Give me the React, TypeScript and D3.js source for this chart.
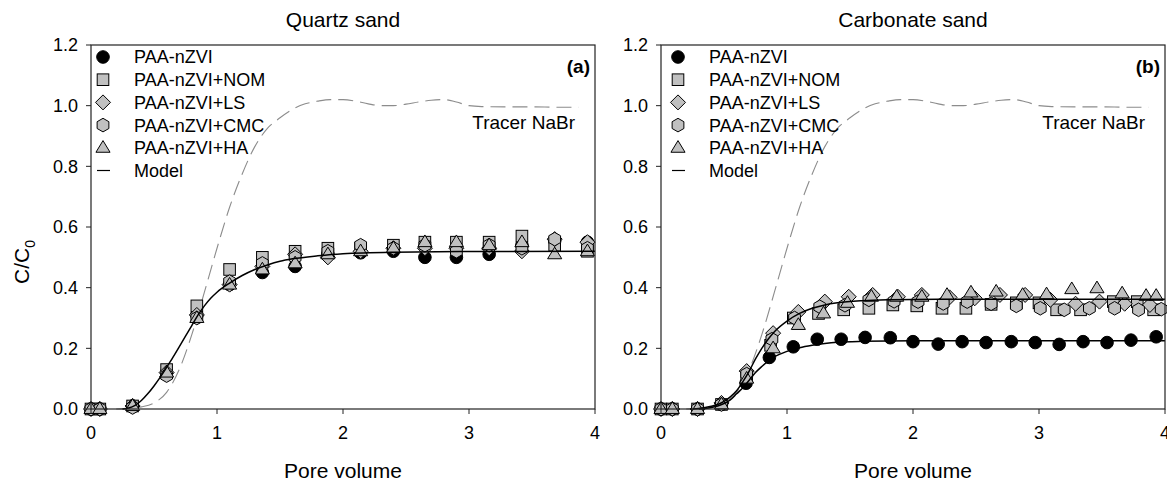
import React from "react";
import * as d3 from "d3";

// ---- Series names & legend ----
const seriesNames = ["PAA-nZVI", "PAA-nZVI+NOM", "PAA-nZVI+LS", "PAA-nZVI+CMC", "PAA-nZVI+HA"];
const seriesShapes = ["circle", "square", "diamond", "hexagon", "triangle"];

// ---- Quartz sand (a) ----
const quartzPV = [0, 0.07, 0.33, 0.6, 0.84, 1.1, 1.36, 1.62, 1.88, 2.14, 2.4, 2.65, 2.9, 3.16, 3.42, 3.68, 3.94];
const quartzZVI = [0, 0, 0.01, 0.12, 0.31, 0.41, 0.45, 0.47, 0.51, 0.515, 0.52, 0.5, 0.5, 0.51, 0.54, 0.555, 0.55];
const quartzNOM = [0, 0, 0.01, 0.13, 0.34, 0.46, 0.5, 0.52, 0.53, 0.53, 0.54, 0.55, 0.55, 0.55, 0.57, 0.54, 0.52];
const quartzLS = [0, 0, 0.01, 0.12, 0.31, 0.41, 0.47, 0.51, 0.5, 0.52, 0.53, 0.53, 0.53, 0.53, 0.52, 0.56, 0.55];
const quartzCMC = [0, 0, 0.005, 0.11, 0.3, 0.42, 0.48, 0.5, 0.52, 0.54, 0.53, 0.54, 0.52, 0.54, 0.53, 0.56, 0.53];
const quartzHA = [0, 0, 0.01, 0.12, 0.3, 0.41, 0.46, 0.48, 0.51, 0.52, 0.53, 0.55, 0.55, 0.54, 0.55, 0.51, 0.52];

const quartzModelPV = [0.25, 0.3, 0.35, 0.4, 0.45, 0.5, 0.55, 0.6, 0.65, 0.7, 0.75, 0.8, 0.85, 0.9, 0.95, 1.0, 1.1, 1.2, 1.3, 1.4, 1.5, 1.6, 1.8, 2.0, 2.4, 3.0, 4.0];
const quartzModelC = [0, 0.003, 0.012, 0.028, 0.05, 0.076, 0.105, 0.137, 0.17, 0.205, 0.24, 0.275, 0.31, 0.34, 0.365, 0.385, 0.415, 0.44, 0.46, 0.475, 0.487, 0.495, 0.505, 0.512, 0.517, 0.519, 0.52];

// ---- Carbonate sand (b) ----
const carbZVIpv = [0, 0.09, 0.29, 0.48, 0.675, 0.86, 1.05, 1.24, 1.43, 1.62, 1.82, 2.0, 2.2, 2.39, 2.58, 2.78, 2.97, 3.16, 3.35, 3.54, 3.73, 3.93];
const carbZVI = [0, 0, 0, 0.015, 0.085, 0.17, 0.205, 0.23, 0.23, 0.236, 0.235, 0.222, 0.214, 0.222, 0.219, 0.222, 0.219, 0.213, 0.222, 0.219, 0.227, 0.238];
const carbNOMpv = [0, 0.09, 0.29, 0.48, 0.68, 0.87, 1.05, 1.25, 1.45, 1.65, 1.84, 2.03, 2.23, 2.42, 2.62, 2.82, 3.0, 3.14, 3.33, 3.59, 3.78, 3.91];
const carbNOM = [0, 0, 0, 0.015, 0.11, 0.21, 0.3, 0.315, 0.327, 0.332, 0.343, 0.34, 0.332, 0.332, 0.345, 0.35, 0.35, 0.327, 0.327, 0.354, 0.354, 0.327];
const carbLSpv = [0, 0.09, 0.29, 0.48, 0.68, 0.89, 1.09, 1.3, 1.49, 1.68, 1.88, 2.07, 2.29, 2.49, 2.69, 2.89, 3.09, 3.29, 3.48, 3.68, 3.88];
const carbLS = [0, 0, 0, 0.02, 0.125, 0.25, 0.32, 0.354, 0.37, 0.376, 0.37, 0.376, 0.368, 0.365, 0.376, 0.376, 0.36, 0.347, 0.354, 0.347, 0.343];
const carbCMCpv = [0, 0.09, 0.29, 0.48, 0.68, 0.88, 1.06, 1.26, 1.46, 1.65, 1.85, 2.04, 2.24, 2.43, 2.62, 2.82, 3.01, 3.2, 3.4, 3.6, 3.79, 3.97];
const carbCMC = [0, 0, 0, 0.015, 0.115, 0.23, 0.3, 0.337, 0.342, 0.36, 0.355, 0.354, 0.348, 0.354, 0.347, 0.34, 0.332, 0.327, 0.332, 0.332, 0.327, 0.329];
const carbHApv = [0, 0.09, 0.29, 0.48, 0.68, 0.89, 1.09, 1.29, 1.48, 1.67, 1.87, 2.07, 2.27, 2.46, 2.66, 2.87, 3.06, 3.26, 3.46, 3.66, 3.85, 3.93];
const carbHA = [0, 0, 0, 0.015, 0.1, 0.2, 0.277, 0.315, 0.35, 0.37, 0.37, 0.37, 0.376, 0.384, 0.387, 0.376, 0.378, 0.395, 0.398, 0.381, 0.373, 0.373];

const carbModelLowPV = [0.3, 0.35, 0.4, 0.45, 0.5, 0.55, 0.6, 0.65, 0.7, 0.75, 0.8, 0.85, 0.9, 1.0, 1.1, 1.2, 1.3, 1.4, 1.6, 2.0, 4.0];
const carbModelLowC = [0, 0.002, 0.005, 0.01, 0.018, 0.03, 0.05, 0.07, 0.095, 0.12, 0.14, 0.158, 0.172, 0.19, 0.202, 0.21, 0.216, 0.22, 0.223, 0.225, 0.225];
const carbModelHighPV = [0.25, 0.3, 0.35, 0.4, 0.45, 0.5, 0.55, 0.6, 0.65, 0.7, 0.75, 0.8, 0.85, 0.9, 1.0, 1.1, 1.2, 1.3, 1.4, 1.6, 1.8, 2.2, 4.0];
const carbModelHighC = [0, 0.002, 0.005, 0.009, 0.015, 0.025, 0.04, 0.06, 0.09, 0.125, 0.165, 0.2, 0.23, 0.255, 0.29, 0.315, 0.332, 0.343, 0.35, 0.357, 0.36, 0.362, 0.362];

// ---- Tracer NaBr (same column breakthrough in both panels) ----
const tracerPV = [0.2, 0.3, 0.4, 0.5, 0.6, 0.7, 0.8, 0.9, 1.0, 1.1, 1.2, 1.3, 1.4, 1.5, 1.6, 1.7, 1.8, 1.9, 2.0, 2.1, 2.2, 2.3, 2.4, 2.5, 2.6, 2.7, 2.8, 2.9, 3.0, 3.1, 3.3, 3.5, 3.7, 3.87];
const tracerC = [0, 0.002, 0.007, 0.02, 0.055, 0.13, 0.245, 0.385, 0.53, 0.665, 0.775, 0.865, 0.925, 0.96, 0.988, 1.006, 1.015, 1.02, 1.02, 1.015, 1.006, 1.0, 1.0, 1.005, 1.012, 1.018, 1.02, 1.012, 1.0, 0.997, 0.996, 0.996, 0.995, 0.995];

const yTicks = [0, 0.2, 0.4, 0.6, 0.8, 1.0, 1.2];
const xTicks = [0, 1, 2, 3, 4];

const FONT = "'Liberation Sans', Arial, Helvetica, sans-serif";
const GRAY = "#c0c0c0";
const AXIS = "#222";

type Pt = [number, number];
const zip = (xs: number[], ys: number[]): Pt[] => xs.map((x, i) => [x, ys[i]]);

function Marker({ shape, cx, cy }: { shape: string; cx: number; cy: number }) {
  const fill = shape === "circle" ? "#000" : GRAY;
  const common = { fill, stroke: "#000", strokeWidth: 1 };
  if (shape === "circle") return <circle cx={cx} cy={cy} r={6.3} {...common} />;
  if (shape === "square") return <rect x={cx - 5.8} y={cy - 5.8} width={11.6} height={11.6} {...common} />;
  if (shape === "diamond") {
    const r = 7.5;
    return <path d={`M${cx},${cy - r}L${cx + r},${cy}L${cx},${cy + r}L${cx - r},${cy}Z`} {...common} />;
  }
  if (shape === "hexagon") {
    const r = 6.8;
    const pts = d3.range(6).map((i) => {
      const a = (Math.PI / 3) * i - Math.PI / 2;
      return `${cx + r * Math.cos(a)},${cy + r * Math.sin(a)}`;
    });
    return <polygon points={pts.join(" ")} {...common} />;
  }
  // triangle
  const r = 7.2;
  return (
    <path
      d={`M${cx},${cy - r}L${cx + r * 0.98},${cy + r * 0.62}L${cx - r * 0.98},${cy + r * 0.62}Z`}
      {...common}
    />
  );
}

interface PanelProps {
  x0: number;
  x1: number;
  title: string;
  tag: string;
  series: Pt[][];
  models: Pt[][];
  showYLabel: boolean;
  legendDx: number;
}

function Panel({ x0, x1, title, tag, series, models, showYLabel, legendDx }: PanelProps) {
  const x = d3.scaleLinear().domain([0, 4]).range([x0, x1]);
  const y = d3.scaleLinear().domain([0, 1.2]).range([409, 45]);
  const line = d3
    .line<Pt>()
    .x((d) => x(d[0]))
    .y((d) => y(d[1]))
    .curve(d3.curveMonotoneX);
  const tracer = zip(tracerPV, tracerC);
  const cx = (x0 + x1) / 2;
  const fmt = d3.format(".1f");
  const lx = x0 + legendDx;

  return (
    <g fontFamily={FONT}>
      <text x={cx} y={27} textAnchor="middle" fontSize={21} fill="#000">
        {title}
      </text>

      {/* tracer breakthrough */}
      <path d={line(tracer) || ""} fill="none" stroke="#8c8c8c" strokeWidth={1.1} strokeDasharray="15,7" />

      {/* measured data */}
      {series.map((pts, si) =>
        pts.map((p, i) => <Marker key={`${si}-${i}`} shape={seriesShapes[si]} cx={x(p[0])} cy={y(p[1])} />)
      )}

      {/* model fits */}
      {models.map((m, i) => (
        <path key={i} d={line(m) || ""} fill="none" stroke="#000" strokeWidth={1.5} />
      ))}

      {/* frame */}
      <rect x={x0} y={45} width={x1 - x0} height={364} fill="none" stroke={AXIS} strokeWidth={1.2} />

      {/* y axis */}
      {yTicks.map((t) => (
        <g key={t}>
          <line x1={x0 - 5} x2={x0} y1={y(t)} y2={y(t)} stroke={AXIS} strokeWidth={1} />
          <text x={x0 - 13} y={y(t)} dy="0.36em" textAnchor="end" fontSize={18} fill="#000">
            {fmt(t)}
          </text>
        </g>
      ))}
      {/* x axis */}
      {xTicks.map((t) => (
        <g key={t}>
          <line x1={x(t)} x2={x(t)} y1={409} y2={414} stroke={AXIS} strokeWidth={1} />
          <text x={x(t)} y={439} textAnchor="middle" fontSize={18} fill="#000">
            {t}
          </text>
        </g>
      ))}
      <text x={cx} y={478} textAnchor="middle" fontSize={21} fill="#000">
        Pore volume
      </text>
      {showYLabel && (
        <text transform={`translate(29,262) rotate(-90)`} textAnchor="middle" fontSize={21} fill="#000">
          C/C
          <tspan fontSize={14} dy={6}>
            0
          </tspan>
        </text>
      )}

      {/* legend */}
      {seriesNames.map((name, i) => {
        const ly = 57 + i * 22.7;
        return (
          <g key={name}>
            <Marker shape={seriesShapes[i]} cx={lx + 12} cy={ly} />
            <text x={lx + 43} y={ly} dy="0.36em" fontSize={18} fill="#000">
              {name}
            </text>
          </g>
        );
      })}
      <line x1={lx + 6} x2={lx + 19} y1={57 + 5 * 22.7} y2={57 + 5 * 22.7} stroke="#000" strokeWidth={1.2} />
      <text x={lx + 43} y={57 + 5 * 22.7} dy="0.36em" fontSize={18} fill="#000">
        Model
      </text>

      <text x={x1 - 5} y={73} textAnchor="end" fontSize={19} fontWeight="bold" fill="#000">
        {tag}
      </text>
      <text x={x1 - 20} y={129} textAnchor="end" fontSize={19} fill="#000">
        Tracer NaBr
      </text>
    </g>
  );
}

export default function App() {
  const quartzSeries: Pt[][] = [quartzZVI, quartzNOM, quartzLS, quartzCMC, quartzHA].map((v) => zip(quartzPV, v));
  const carbSeries: Pt[][] = [
    zip(carbZVIpv, carbZVI),
    zip(carbNOMpv, carbNOM),
    zip(carbLSpv, carbLS),
    zip(carbCMCpv, carbCMC),
    zip(carbHApv, carbHA),
  ];
  return (
    <svg
      width={1167}
      height={484}
      viewBox="0 0 1167 484"
      style={{ position: "absolute", left: 0, top: 0, background: "#fff" }}
    >
      <rect width={1167} height={484} fill="#fff" />
      <Panel
        x0={91}
        x1={595}
        title="Quartz sand"
        tag="(a)"
        series={quartzSeries}
        models={[zip(quartzModelPV, quartzModelC)]}
        showYLabel
        legendDx={0}
      />
      <Panel
        x0={661}
        x1={1165}
        title="Carbonate sand"
        tag="(b)"
        series={carbSeries}
        models={[zip(carbModelLowPV, carbModelLowC), zip(carbModelHighPV, carbModelHighC)]}
        showYLabel={false}
        legendDx={5}
      />
    </svg>
  );
}
